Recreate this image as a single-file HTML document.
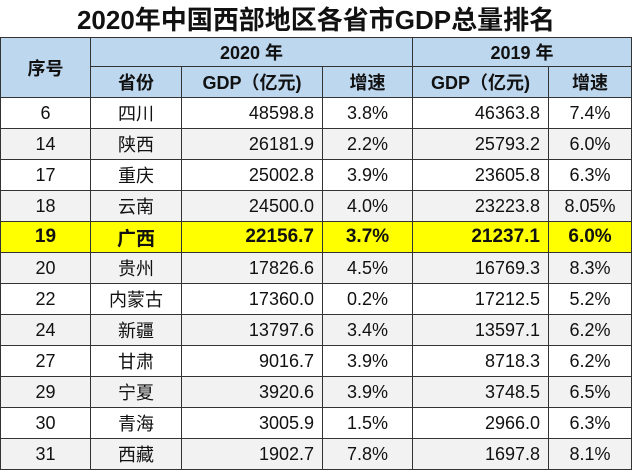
<!DOCTYPE html>
<html><head><meta charset="utf-8"><style>
body{margin:0;width:640px;height:472px;background:#fff;overflow:hidden;font-family:"Liberation Sans","Noto Sans CJK SC",sans-serif;}
table{position:absolute;left:0;top:0;border-collapse:collapse;table-layout:fixed;width:631px;}
td{border:1.5px solid #333;padding:0;font-size:18px;color:#111;height:30px;text-align:center;white-space:nowrap;overflow:hidden;}
.title{height:37px;font-size:26px;font-weight:bold;border-top:none;border-left:none;border-right:none;background:#fff;}
.h td{background:#bdd7ee;font-weight:bold;font-size:18px;}
.h1 td{height:28px}
.h2 td{height:30px}
.r{text-align:right;padding-right:8px}
.g td{background:#f2f2f2}
.y td{background:#ffff00;font-weight:bold;font-size:19px}
</style></head><body>
<table>
<colgroup><col style="width:90px"><col style="width:91px"><col style="width:141px"><col style="width:90px"><col style="width:136px"><col style="width:83px"></colgroup>
<tr><td class="title" colspan="6">2020年中国西部地区各省市GDP总量排名</td></tr>
<tr class="h h1"><td rowspan="2">序号</td><td colspan="3">2020 年</td><td colspan="2">2019 年</td></tr>
<tr class="h h2"><td>省份</td><td>GDP（亿元)</td><td>增速</td><td>GDP（亿元)</td><td>增速</td></tr>
<tr><td>6</td><td>四川</td><td class="r">48598.8</td><td>3.8%</td><td class="r">46363.8</td><td>7.4%</td></tr>
<tr class="g"><td>14</td><td>陕西</td><td class="r">26181.9</td><td>2.2%</td><td class="r">25793.2</td><td>6.0%</td></tr>
<tr><td>17</td><td>重庆</td><td class="r">25002.8</td><td>3.9%</td><td class="r">23605.8</td><td>6.3%</td></tr>
<tr class="g"><td>18</td><td>云南</td><td class="r">24500.0</td><td>4.0%</td><td class="r">23223.8</td><td>8.05%</td></tr>
<tr class="y"><td>19</td><td>广西</td><td class="r">22156.7</td><td>3.7%</td><td class="r">21237.1</td><td>6.0%</td></tr>
<tr class="g"><td>20</td><td>贵州</td><td class="r">17826.6</td><td>4.5%</td><td class="r">16769.3</td><td>8.3%</td></tr>
<tr><td>22</td><td>内蒙古</td><td class="r">17360.0</td><td>0.2%</td><td class="r">17212.5</td><td>5.2%</td></tr>
<tr class="g"><td>24</td><td>新疆</td><td class="r">13797.6</td><td>3.4%</td><td class="r">13597.1</td><td>6.2%</td></tr>
<tr><td>27</td><td>甘肃</td><td class="r">9016.7</td><td>3.9%</td><td class="r">8718.3</td><td>6.2%</td></tr>
<tr class="g"><td>29</td><td>宁夏</td><td class="r">3920.6</td><td>3.9%</td><td class="r">3748.5</td><td>6.5%</td></tr>
<tr><td>30</td><td>青海</td><td class="r">3005.9</td><td>1.5%</td><td class="r">2966.0</td><td>6.3%</td></tr>
<tr class="g"><td>31</td><td>西藏</td><td class="r">1902.7</td><td>7.8%</td><td class="r">1697.8</td><td>8.1%</td></tr>
</table>
</body></html>
